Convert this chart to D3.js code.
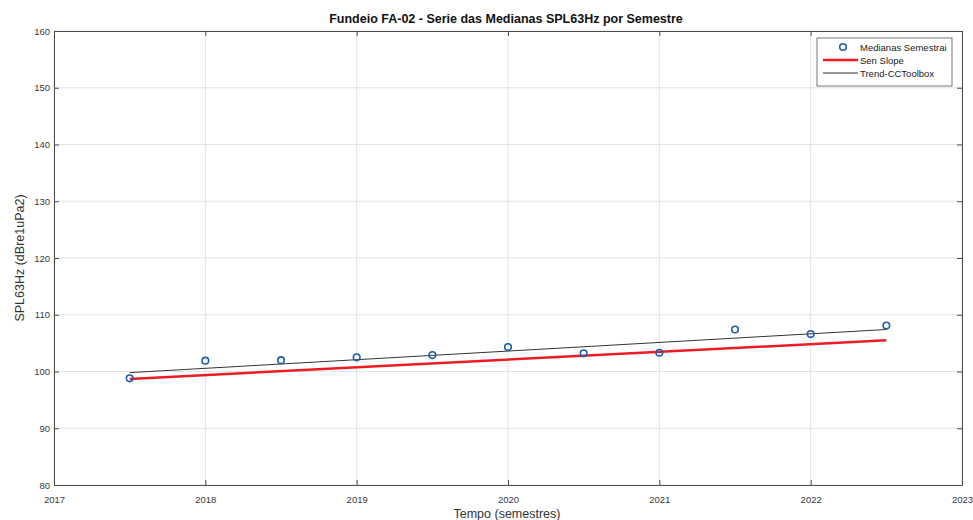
<!DOCTYPE html>
<html>
<head>
<meta charset="utf-8">
<script src="https://cdn.jsdelivr.net/npm/d3@7"></script>
<style>
  html, body { margin: 0; padding: 0; background: #fff; }
  svg { display: block; font-family: "Liberation Sans", Arial, Helvetica, sans-serif; }
</style>
</head>
<body>
<svg id="chart" width="973" height="520"></svg>
<script>
// Semester medians of SPL at 63 Hz
const semesters = [2017.5, 2018, 2018.5, 2019, 2019.5, 2020, 2020.5, 2021, 2021.5, 2022, 2022.5];
const medians   = [98.8, 101.9, 102.0, 102.5, 102.9, 104.3, 103.2, 103.3, 107.4, 106.6, 108.1];

// Fitted trend lines (start / end of the series)
const trendYears = [2017.5, 2022.5];
const senSlope   = [98.7, 105.5];
const trendCC    = [99.8, 107.4];

const xTicks = [2017, 2018, 2019, 2020, 2021, 2022, 2023];
const yTicks = [80, 90, 100, 110, 120, 130, 140, 150, 160];

const titleText = "Fundeio FA-02 - Serie das Medianas SPL63Hz por Semestre";
const xLabel = "Tempo (semestres)";
const yLabel = "SPL63Hz (dBre1uPa2)";
const legendLabels = ["Medianas Semestrai", "Sen Slope", "Trend-CCToolbox"];

const svg = d3.select("#chart");
const m = { left: 54, right: 962, top: 31, bottom: 485 };

const x = d3.scaleLinear().domain([2017, 2023]).range([m.left, m.right]);
const y = d3.scaleLinear().domain([80, 160]).range([m.bottom, m.top]);

// grid
const grid = svg.append("g");
grid.selectAll("line.gx").data(xTicks).join("line")
  .attr("x1", d => x(d)).attr("x2", d => x(d))
  .attr("y1", m.top).attr("y2", m.bottom)
  .attr("stroke", "#e3e3e3").attr("stroke-width", 1);
grid.selectAll("line.gy").data(yTicks).join("line")
  .attr("y1", d => y(d)).attr("y2", d => y(d))
  .attr("x1", m.left).attr("x2", m.right)
  .attr("stroke", "#e3e3e3").attr("stroke-width", 1);

// axes
const xAxis = d3.axisBottom(x).tickValues(xTicks).tickFormat(d3.format("d")).tickSizeInner(-5).tickSizeOuter(0).tickPadding(11);
const yAxis = d3.axisLeft(y).tickValues(yTicks).tickFormat(d3.format("d")).tickSizeInner(-5).tickSizeOuter(0).tickPadding(4);

const gx = svg.append("g").attr("transform", `translate(0,${m.bottom})`).call(xAxis);
const gy = svg.append("g").attr("transform", `translate(${m.left},0)`).call(yAxis);
[gx, gy].forEach(g => {
  g.select(".domain").attr("stroke", "#4d4d4d");
  g.selectAll(".tick line").attr("stroke", "#4d4d4d");
  g.selectAll(".tick text").attr("fill", "#3a3a3a").attr("font-size", 9.5)
    .attr("font-family", "'Liberation Sans', Arial, sans-serif");
});
gy.selectAll(".tick text").attr("x", -4);
// top and right box edges with mirrored ticks
const gxTop = svg.append("g").attr("transform", `translate(0,${m.top})`)
  .call(d3.axisTop(x).tickValues(xTicks).tickSizeInner(-5).tickSizeOuter(0).tickFormat(""));
const gyRight = svg.append("g").attr("transform", `translate(${m.right},0)`)
  .call(d3.axisRight(y).tickValues(yTicks).tickSizeInner(-5).tickSizeOuter(0).tickFormat(""));
[gxTop, gyRight].forEach(g => {
  g.select(".domain").attr("stroke", "#4d4d4d");
  g.selectAll(".tick line").attr("stroke", "#4d4d4d");
});

// lines
const line = d3.line().x(d => x(d[0])).y(d => y(d[1]));
svg.append("path")
  .datum(trendYears.map((t, i) => [t, trendCC[i]]))
  .attr("d", line).attr("fill", "none")
  .attr("stroke", "#333").attr("stroke-width", 1);
svg.append("path")
  .datum(trendYears.map((t, i) => [t, senSlope[i]]))
  .attr("d", line).attr("fill", "none")
  .attr("stroke", "#ee1b24").attr("stroke-width", 2.5);

// median markers
svg.append("g").selectAll("circle").data(semesters).join("circle")
  .attr("cx", d => x(d)).attr("cy", (d, i) => y(medians[i]))
  .attr("r", 3.3).attr("fill", "none")
  .attr("stroke", "#1f5fa8").attr("stroke-width", 1.6);

// title & axis labels
svg.append("text").attr("x", 506).attr("y", 23).attr("text-anchor", "middle")
  .attr("font-size", 12.5).attr("font-weight", "bold").attr("fill", "#111").text(titleText);
svg.append("text").attr("x", 507).attr("y", 518).attr("text-anchor", "middle")
  .attr("font-size", 12.5).attr("fill", "#333").text(xLabel);
svg.append("text").attr("transform", `translate(24,${(m.top + m.bottom) / 2}) rotate(-90)`)
  .attr("text-anchor", "middle").attr("font-size", 12.5).attr("fill", "#333").text(yLabel);

// legend
const lg = svg.append("g").attr("transform", "translate(817,38)");
lg.append("rect").attr("width", 135).attr("height", 48)
  .attr("fill", "#fff").attr("stroke", "#555").attr("stroke-width", 0.8);
const rows = [9, 22, 35];
lg.append("circle").attr("cx", 26).attr("cy", rows[0]).attr("r", 3.3)
  .attr("fill", "none").attr("stroke", "#1f5fa8").attr("stroke-width", 1.6);
lg.append("line").attr("x1", 6).attr("x2", 41).attr("y1", rows[1]).attr("y2", rows[1])
  .attr("stroke", "#ee1b24").attr("stroke-width", 2.5);
lg.append("line").attr("x1", 6).attr("x2", 41).attr("y1", rows[2]).attr("y2", rows[2])
  .attr("stroke", "#333").attr("stroke-width", 1);
lg.selectAll("text").data(legendLabels).join("text")
  .attr("x", 43).attr("y", (d, i) => rows[i] + 3.5)
  .attr("font-size", 9.5).attr("fill", "#222").text(d => d);
</script>
</body>
</html>
